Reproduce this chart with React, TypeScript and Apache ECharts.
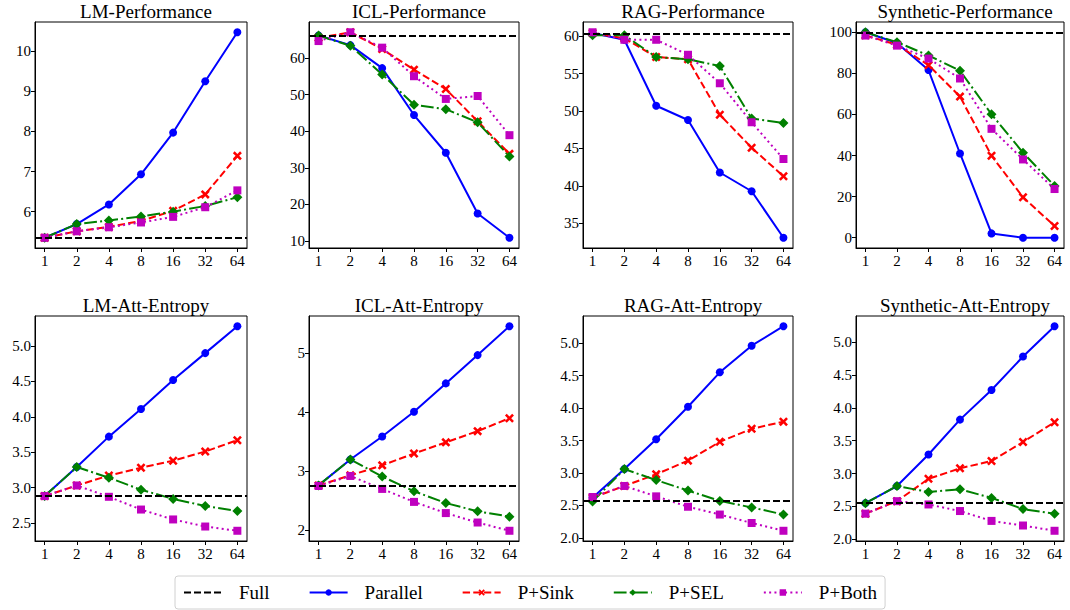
import React, { useEffect, useRef } from 'react';
import * as echarts from 'echarts';

const FONT = 'Liberation Serif, serif';

const xLabels = ['1', '2', '4', '8', '16', '32', '64'];
const seriesNames = ['Parallel', 'P+Sink', 'P+SEL', 'P+Both'];
const fullName = 'Full';

// LM-Performance
const lmPerfFull = 5.36;
const lmPerfParallel = [5.35, 5.69, 6.18, 6.93, 7.97, 9.25, 10.47];
const lmPerfSink = [5.35, 5.51, 5.62, 5.77, 6.02, 6.43, 7.39];
const lmPerfSel = [5.35, 5.69, 5.78, 5.88, 6.0, 6.14, 6.36];
const lmPerfBoth = [5.35, 5.51, 5.61, 5.73, 5.87, 6.11, 6.53];
const lmPerfTicks = ['6', '7', '8', '9', '10'];

// ICL-Performance
const iclPerfFull = 66.1;
const iclPerfParallel = [66.1, 63.5, 57.2, 44.4, 34.1, 17.5, 10.9];
const iclPerfSink = [65.5, 67.0, 62.4, 56.8, 51.5, 42.7, 33.8];
const iclPerfSel = [66.1, 63.3, 55.5, 47.2, 46.0, 42.4, 33.1];
const iclPerfBoth = [64.6, 67.0, 62.8, 55.0, 48.8, 49.6, 38.9];
const iclPerfTicks = ['10', '20', '30', '40', '50', '60'];

// RAG-Performance
const ragPerfFull = 60.27;
const ragPerfParallel = [60.4, 59.5, 50.7, 48.8, 41.8, 39.3, 33.1];
const ragPerfSink = [60.4, 59.7, 57.2, 56.9, 49.5, 45.1, 41.3];
const ragPerfSel = [60.1, 60.1, 57.2, 56.9, 56.0, 49.0, 48.4];
const ragPerfBoth = [60.5, 59.5, 59.5, 57.5, 53.7, 48.5, 43.6];
const ragPerfTicks = ['35', '40', '45', '50', '55', '60'];

// Synthetic-Performance
const synPerfFull = 99.7;
const synPerfParallel = [100.0, 94.8, 81.6, 41.0, 2.1, 0.0, 0.0];
const synPerfSink = [98.5, 93.9, 84.0, 68.7, 39.9, 19.7, 5.7];
const synPerfSel = [100.0, 95.2, 88.7, 81.3, 60.1, 41.4, 25.2];
const synPerfBoth = [98.4, 93.5, 87.2, 77.5, 53.0, 38.1, 23.7];
const synPerfTicks = ['0', '20', '40', '60', '80', '100'];

// LM-Att-Entropy
const lmEntFull = 2.884;
const lmEntParallel = [2.88, 3.29, 3.72, 4.11, 4.52, 4.9, 5.28];
const lmEntSink = [2.88, 3.03, 3.17, 3.28, 3.38, 3.51, 3.67];
const lmEntSel = [2.88, 3.29, 3.14, 2.97, 2.84, 2.74, 2.67];
const lmEntBoth = [2.88, 3.03, 2.87, 2.69, 2.55, 2.45, 2.39];
const lmEntTicks = ['2.5', '3.0', '3.5', '4.0', '4.5', '5.0'];

// ICL-Att-Entropy
const iclEntFull = 2.755;
const iclEntParallel = [2.76, 3.2, 3.59, 4.01, 4.49, 4.97, 5.46];
const iclEntSink = [2.76, 2.93, 3.1, 3.3, 3.49, 3.68, 3.9];
const iclEntSel = [2.76, 3.2, 2.91, 2.66, 2.46, 2.32, 2.23];
const iclEntBoth = [2.75, 2.92, 2.7, 2.48, 2.29, 2.13, 1.99];
const iclEntTicks = ['2', '3', '4', '5'];

// RAG-Att-Entropy
const ragEntFull = 2.58;
const ragEntParallel = [2.62, 3.06, 3.52, 4.02, 4.55, 4.96, 5.26];
const ragEntSink = [2.62, 2.8, 2.98, 3.19, 3.48, 3.68, 3.79];
const ragEntSel = [2.56, 3.06, 2.89, 2.73, 2.57, 2.47, 2.36];
const ragEntBoth = [2.63, 2.8, 2.64, 2.48, 2.36, 2.23, 2.11];
const ragEntTicks = ['2.0', '2.5', '3.0', '3.5', '4.0', '4.5', '5.0'];

// Synthetic-Att-Entropy
const synEntFull = 2.55;
const synEntParallel = [2.55, 2.81, 3.29, 3.82, 4.27, 4.78, 5.24];
const synEntSink = [2.39, 2.58, 2.92, 3.08, 3.19, 3.48, 3.78];
const synEntSel = [2.55, 2.81, 2.72, 2.76, 2.63, 2.46, 2.39];
const synEntBoth = [2.39, 2.58, 2.53, 2.43, 2.28, 2.21, 2.13];
const synEntTicks = ['2.0', '2.5', '3.0', '3.5', '4.0', '4.5', '5.0'];

const panelTitles = [
  'LM-Performance', 'ICL-Performance', 'RAG-Performance', 'Synthetic-Performance',
  'LM-Att-Entropy', 'ICL-Att-Entropy', 'RAG-Att-Entropy', 'Synthetic-Att-Entropy',
];

const panels = [
  { full: lmPerfFull, values: [lmPerfParallel, lmPerfSink, lmPerfSel, lmPerfBoth], ticks: lmPerfTicks },
  { full: iclPerfFull, values: [iclPerfParallel, iclPerfSink, iclPerfSel, iclPerfBoth], ticks: iclPerfTicks },
  { full: ragPerfFull, values: [ragPerfParallel, ragPerfSink, ragPerfSel, ragPerfBoth], ticks: ragPerfTicks },
  { full: synPerfFull, values: [synPerfParallel, synPerfSink, synPerfSel, synPerfBoth], ticks: synPerfTicks },
  { full: lmEntFull, values: [lmEntParallel, lmEntSink, lmEntSel, lmEntBoth], ticks: lmEntTicks },
  { full: iclEntFull, values: [iclEntParallel, iclEntSink, iclEntSel, iclEntBoth], ticks: iclEntTicks },
  { full: ragEntFull, values: [ragEntParallel, ragEntSink, ragEntSel, ragEntBoth], ticks: ragEntTicks },
  { full: synEntFull, values: [synEntParallel, synEntSink, synEntSel, synEntBoth], ticks: synEntTicks },
];

const X_SYMBOL = 'path://M2,0 L5,3 L8,0 L10,2 L7,5 L10,8 L8,10 L5,7 L2,10 L0,8 L3,5 L0,2 Z';

const seriesStyles = [
  { color: '#0000ff', symbol: 'circle', size: 8, dash: 'solid' as any },
  { color: '#ff0000', symbol: X_SYMBOL, size: 9, dash: [7.4, 3.2] },
  { color: '#008000', symbol: 'diamond', size: 10, dash: [12.8, 3.2, 2, 3.2] },
  { color: '#bf00bf', symbol: 'rect', size: 8, dash: [2, 3.3] },
];

const colLeft = [35, 309, 583, 856];
const colWidth = [212, 210, 210, 208];
const rowTop = [22, 316];
const rowHeight = [226, 225];

function buildOption() {
  const grids: any[] = [];
  const xAxes: any[] = [];
  const yAxes: any[] = [];
  const titles: any[] = [];
  const series: any[] = [];
  const xIdx = xLabels.map((_, i) => i);

  panels.forEach((p, i) => {
    const r = Math.floor(i / 4);
    const c = i % 4;
    const left = colLeft[c];
    const top = rowTop[r];
    const width = colWidth[c];
    const height = rowHeight[r];
    grids.push({ left, top, width, height, show: true, borderColor: '#000', borderWidth: 1, backgroundColor: 'transparent' });

    titles.push({
      text: panelTitles[i],
      left: left + width / 2,
      textAlign: 'center',
      top: top - 25,
      textStyle: { fontFamily: FONT, fontSize: 19, fontWeight: 'normal', color: '#000' },
    });

    const all = p.values.flat().concat([p.full]);
    const lo = Math.min(...all);
    const hi = Math.max(...all);
    const pad = (hi - lo) * 0.05;
    const tickVals = p.ticks.map(Number);

    xAxes.push({
      type: 'value', gridIndex: i, min: -0.3, max: 6.3,
      splitLine: { show: false },
      axisLine: { show: true, onZero: false, lineStyle: { color: '#000', width: 1 } },
      axisTick: { show: true, length: 4, customValues: xIdx, lineStyle: { color: '#000', width: 1 } },
      axisLabel: {
        customValues: xIdx, formatter: (v: number) => xLabels[Math.round(v)] ?? '',
        fontFamily: FONT, fontSize: 15, color: '#000', margin: 5,
      },
    });
    yAxes.push({
      type: 'value', gridIndex: i, min: lo - pad, max: hi + pad,
      splitLine: { show: false },
      axisLine: { show: true, onZero: false, lineStyle: { color: '#000', width: 1 } },
      axisTick: { show: true, length: 4, customValues: tickVals, lineStyle: { color: '#000', width: 1 } },
      axisLabel: {
        customValues: tickVals,
        formatter: (v: number) => {
          const k = tickVals.findIndex((t) => Math.abs(t - v) < 1e-9);
          return k >= 0 ? p.ticks[k] : '';
        },
        fontFamily: FONT, fontSize: 15, color: '#000', margin: 4,
      },
    });

    series.push({
      name: fullName, type: 'line', xAxisIndex: i, yAxisIndex: i, data: [],
      symbol: 'none',
      lineStyle: { color: '#000', type: [7, 3], width: 1.8 },
      itemStyle: { color: '#000' },
      markLine: {
        silent: true, symbol: ['none', 'none'], label: { show: false },
        lineStyle: { color: '#000', type: [7, 3], width: 1.8 },
        emphasis: { disabled: true },
        data: [{ yAxis: p.full }],
      },
    });

    p.values.forEach((vals, s) => {
      const st = seriesStyles[s];
      series.push({
        name: seriesNames[s], type: 'line', xAxisIndex: i, yAxisIndex: i,
        data: vals.map((v, k) => [k, v]),
        symbol: st.symbol, symbolSize: st.size,
        lineStyle: { color: st.color, width: 2, type: st.dash },
        itemStyle: { color: st.color },
        emphasis: { disabled: true },
      });
    });
  });

  return {
    animation: false,
    backgroundColor: '#fff',
    textStyle: { fontFamily: FONT },
    title: titles,
    grid: grids,
    xAxis: xAxes,
    yAxis: yAxes,
    legend: {
      data: [{ name: fullName, itemStyle: { opacity: 0 } }, ...seriesNames],
      left: 175, top: 576,
      orient: 'horizontal',
      itemWidth: 38, itemHeight: 8, itemGap: 39,
      padding: [7, 8, 7, 8],
      borderColor: '#d0d0d0', borderWidth: 1, borderRadius: 3,
      textStyle: { fontFamily: FONT, fontSize: 19, color: '#000', padding: [0, 0, 0, 12] },
    },
    series,
  };
}

export default function App() {
  const ref = useRef<HTMLDivElement>(null);
  useEffect(() => {
    if (!ref.current) return;
    const chart = echarts.init(ref.current, undefined, { renderer: 'svg' });
    chart.setOption(buildOption() as any);
    return () => chart.dispose();
  }, []);
  return (
    <div
      ref={ref}
      style={{ position: 'fixed', left: 0, top: 0, width: 1070, height: 610, background: '#fff' }}
    />
  );
}
